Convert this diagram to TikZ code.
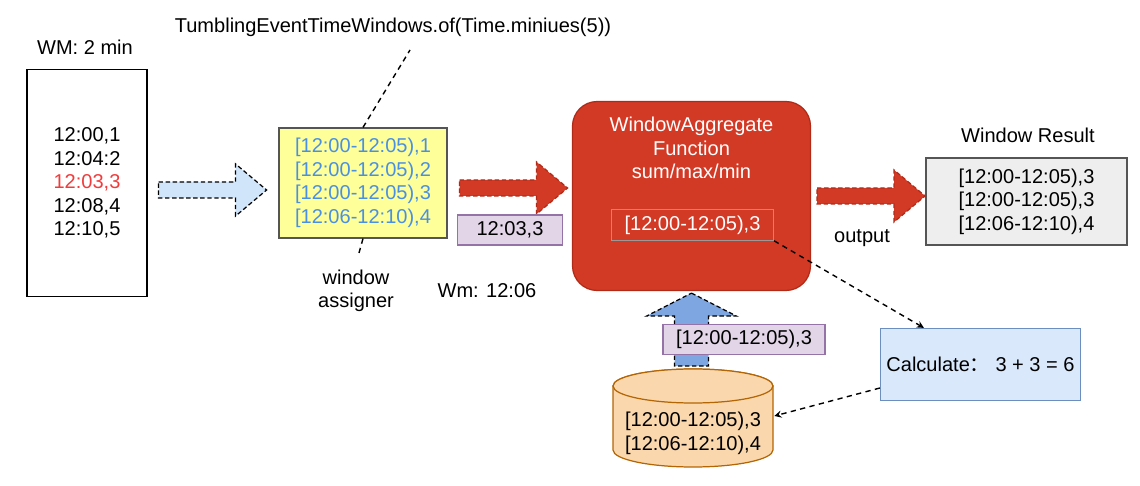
\documentclass[tikz,border=0pt]{standalone}
\usepackage{fontspec}
\setmainfont{Liberation Sans}
\newfontfamily\cjk{Noto Sans CJK SC}
\usepackage{tikz}
\usetikzlibrary{shapes.geometric, arrows, calc}
\definecolor{yelfill}{HTML}{FFFF99}
\definecolor{boxgray}{HTML}{555555}
\definecolor{bluetext}{HTML}{4A90E2}
\definecolor{redtext}{HTML}{F03C3C}
\definecolor{redfill}{HTML}{D33A26}
\definecolor{redline}{HTML}{B02A17}
\definecolor{tagfill}{HTML}{E1D5E7}
\definecolor{tagline}{HTML}{9673A6}
\definecolor{resfill}{HTML}{EEEEEE}
\definecolor{calcfill}{HTML}{DAE8FC}
\definecolor{calcline}{HTML}{6C8EBF}
\definecolor{lightblue}{HTML}{D0E4FA}
\definecolor{midblue}{HTML}{7EA6E0}
\definecolor{dbfill}{HTML}{FAD7AC}
\definecolor{dbline}{HTML}{B46504}
\definecolor{innerline}{HTML}{999999}
\tikzset{
	box/.style={rectangle, draw=boxgray, line width=0.7pt, text centered, align=center},
	memory/.style={box, draw=black, fill=white, minimum width=2.4cm, minimum height=4.54cm},
	assigner/.style={box, fill=yelfill, text=bluetext, minimum width=3.36cm, minimum height=2.2cm},
	tag/.style={box, draw=tagline, fill=tagfill, minimum height=0.6cm},
	aggregate/.style={rectangle, rounded corners=14pt, draw=redline, line width=0.7pt, fill=redfill, minimum width=4.76cm, minimum height=3.78cm},
	inner/.style={box, draw=innerline, text=white, minimum width=3.24cm, minimum height=0.6cm},
	result/.style={box, fill=resfill, minimum width=4.02cm, minimum height=1.74cm},
	calcbox/.style={box, draw=calcline, fill=calcfill, minimum width=4cm, minimum height=1.44cm},
	store/.style={fill=dbfill, draw=dbline, line width=0.7pt},
	fatred/.style={fill=redfill, draw=redline, line width=0.7pt, dash pattern=on 2.5pt off 1.5pt},
	fatblue/.style={fill=lightblue, draw=black, line width=0.7pt, dash pattern=on 2.5pt off 1.5pt},
	fatup/.style={fill=midblue, draw=black, line width=0.7pt, dash pattern=on 2.5pt off 1.5pt},
	line/.style={dash pattern=on 3pt off 2.5pt, line width=0.8pt},
	arrow/.style={dash pattern=on 3pt off 2.5pt, line width=0.8pt, ->, >=stealth}
}
\usetikzlibrary{positioning}
% fat horizontal arrow from its tail centre
\newcommand{\fatarrow}[2]{\draw[#1] (#2) ++(0,-8) -- ++(77,0) -- ++(0,-18) -- ++(31,26) -- ++(-31,26) -- ++(0,-18) -- ++(-77,0) -- cycle;}

\begin{document}
\begin{tikzpicture}[x=0.02cm, y=-0.02cm, font=\fontsize{11.4}{13.4}\selectfont]
	\useasboundingbox (0,0) rectangle (1140,486);

	% Events
	\node (wm) at (85,47) {WM: 2 min};
	\node[memory] (mem) at (87,183) {12:00,1\\12:04:2\\\textcolor{redtext}{12:03,3}\\12:08,4\\12:10,5};

	% Window assigner
	\node[assigner] (yel) at (363,183) {[12:00-12:05),1\\{[12:00-12:05),2}\\{[12:00-12:05),3}\\{[12:06-12:10),4}};
	\node (tumb) at (393,27) {TumblingEventTimeWindows.of(Time.miniues(5))};
	\coordinate (tumbend) at (410,50);
	\draw[line] (yel.north) -- (tumbend);
	\node[align=center] (assign) at (356,291) {window\\assigner};
	\draw[line, shorten >=5pt] (yel.south) -- (assign.north);
	\node (wmark) at (487,291) {Wm: 12:06};

	% Aggregate function
	\node[aggregate] (agg) at (691.5,196) {};
	\node[below=0.2cm of agg.north, text=white, align=center] (aggtxt) {WindowAggregate\\Function\\sum/max/min};
	\node[inner] (res) at (692.5,225) {[12:00-12:05),3};

	% Output
	\node (wrtitle) at (1028,135) {Window Result};
	\node[result] (out) at (1026.5,201.5) {[12:00-12:05),3\\{[12:00-12:05),3}\\{[12:06-12:10),4}};
	\node (outlbl) at (862,238) {output};

	% Calculate
	\node[calcbox] (calc) at (980.5,364.5) {Calculate{\cjk ：} 3 + 3 = 6};

	% State
	\coordinate (dbc) at (693,433.5);
	\draw[store] ($(dbc)+(-80,-47.5)$) -- ++(0,64) arc[start angle=180, end angle=0, x radius=80, y radius=17] -- ++(0,-64) arc[start angle=0, end angle=-180, x radius=80, y radius=17] -- cycle;
	\draw[store] ($(dbc)+(0,-47.5)$) ellipse [x radius=80, y radius=17];
	\node[minimum width=3.2cm, align=center] (db) at (dbc) {[12:00-12:05),3\\{[12:06-12:10),4}};

	% Fat arrows
	\fatarrow{fatblue}{$(mem.east)+(11,7)$}
	\fatarrow{fatred}{$(yel.east)+(12,5)$}
	\fatarrow{fatred}{$(agg.east)+(6,0)$}
	\draw[fatup] ($(agg.south)+(0,2)$) -- ++(45,23) -- ++(-28,0) -- ++(0,50) -- ++(-34,0) -- ++(0,-50) -- ++(-28,0) -- cycle;

	% Labels
	\node[tag, minimum width=2.1cm] (evt) at (510,230) {12:03,3};
	\node[tag, minimum width=3.24cm] (st) at (744,339.5) {[12:00-12:05),3};

	% Connectors
	\draw[arrow] (res.south east) -- ($(calc.north west)+(44,0)$);
	\draw[arrow] ($(calc.west)+(0,23.5)$) -- ($(db.east)+(1,-17.5)$);
\end{tikzpicture}
\end{document}
